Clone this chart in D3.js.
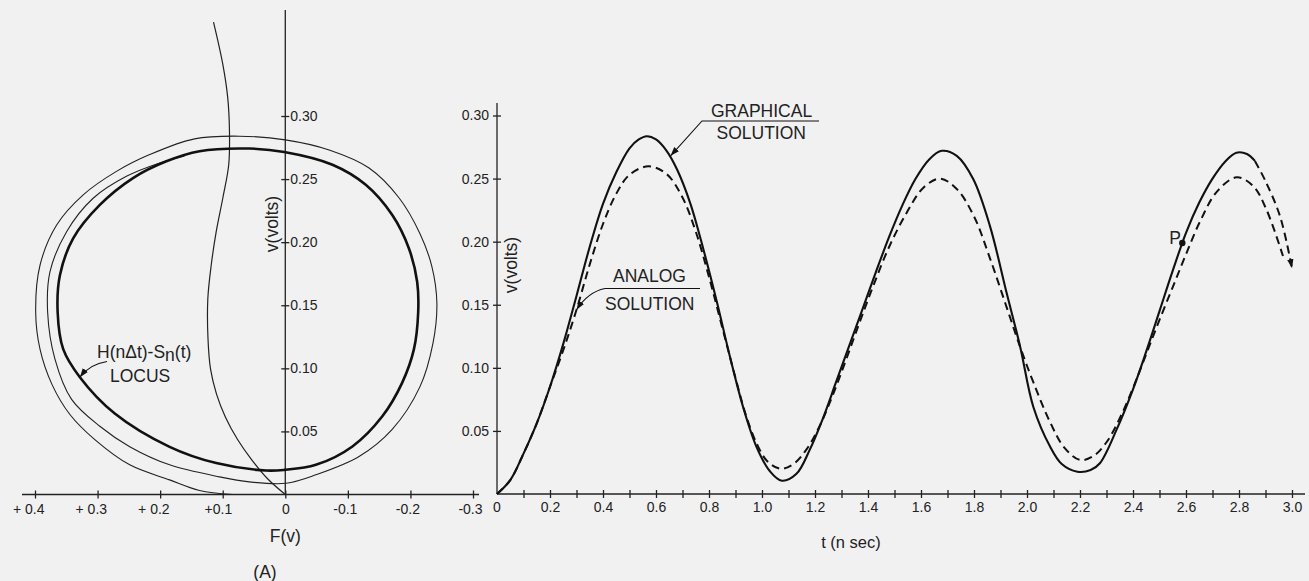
<!DOCTYPE html>
<html>
<head>
<meta charset="utf-8">
<title>Graphical and analog solution</title>
<script src="https://d3js.org/d3.v7.min.js"></script>
<style>
  body { margin: 0; background: #f1f1f1; }
  svg { display: block; }
  text { font-family: "Liberation Sans", Arial, sans-serif; fill: #222; }
  .axis line, .axisline { stroke: #222; stroke-width: 1.3; }
  .tick text { font-size: 14px; }
  .lbl { font-size: 17.5px; }
</style>
</head>
<body>
<svg id="chart" width="1309" height="581"></svg>
<script>
// ---- data (A): F(v) plane ----
var fTickVals   = [0.4, 0.3, 0.2, 0.1, 0, -0.1, -0.2, -0.3];
var fTickLabels = ["+ 0.4", "+ 0.3", "+ 0.2", "+0.1", "0", "-0.1", "-0.2", "-0.3"];
var vTickVals   = [0.05, 0.10, 0.15, 0.20, 0.25, 0.30];
var vTickLabels = ["0.05", "0.10", "0.15", "0.20", "0.25", "0.30"];

// F(v) characteristic (thin curve through origin)
var charF = [0.1147, 0.0999, 0.092, 0.0892, 0.0904, 0.0999, 0.1104, 0.1184, 0.1238, 0.1235, 0.1195, 0.1099, 0.0956, 0.0765, 0.0542, 0.0287, 0];
var charV = [0.3744, 0.3411, 0.3146, 0.288, 0.2614, 0.2348, 0.2083, 0.1817, 0.1551, 0.1232, 0.0995, 0.0796, 0.0613, 0.0438, 0.0279, 0.0127, 0];

// H(n dt) - Sn(t) locus (closed, heavy)
var locusF = [0.0574, 0.0016, -0.0754, -0.1286, -0.171, -0.1976, -0.2108, -0.2124, -0.2056, -0.1869, -0.1551, -0.1073, -0.0489, 0.0016, 0.0308, 0.1104, 0.1849, 0.2725, 0.3283, 0.3549, 0.3638, 0.3602, 0.339, 0.2964, 0.2434, 0.1901, 0.1371];
var locusV = [0.2742, 0.2715, 0.2614, 0.2455, 0.2215, 0.195, 0.1684, 0.1445, 0.1152, 0.0887, 0.062, 0.0381, 0.0235, 0.0195, 0.019, 0.0249, 0.0378, 0.0642, 0.0930, 0.1152, 0.1445, 0.1737, 0.203, 0.2295, 0.2508, 0.2641, 0.2721];

// spiral trajectory converging on the locus (thin)
var spiralF = [0.0845, 0.1371, 0.1849, 0.2486, 0.3044, 0.3442, 0.3729, 0.392, 0.3989, 0.392, 0.3654, 0.323, 0.2698, 0.2167, 0.145, 0.0733, 0, -0.0701, -0.1339, -0.1817, -0.2151, -0.2343, -0.2423, -0.2359, -0.2151, -0.1705, -0.1179, -0.0489, -0.0011, 0.0574, 0.1052, 0.1849, 0.2486, 0.2964, 0.3415, 0.3681, 0.3798, 0.3761, 0.3495, 0.3071, 0.2539, 0.2008, 0.161];
var spiralV = [0, 0.0032, 0.0116, 0.0235, 0.0435, 0.0634, 0.0873, 0.1152, 0.1445, 0.1817, 0.2136, 0.2375, 0.2561, 0.2694, 0.2819, 0.284, 0.2811, 0.2731, 0.2588, 0.2352, 0.2069, 0.1807, 0.1515, 0.1196, 0.0853, 0.0514, 0.0301, 0.0156, 0.0089, 0.01, 0.014, 0.0235, 0.0379, 0.0541, 0.0754, 0.1073, 0.1445, 0.1764, 0.2083, 0.2348, 0.2522, 0.2628, 0.2683];

// ---- data: v(t) ----
var tTickVals   = d3.range(0, 31).map(function(i){ return i / 10; });
var tTickLabels = ["0","","0.2","","0.4","","0.6","","0.8","","1.0","","1.2","","1.4","","1.6","","1.8","","2.0","","2.2","","2.4","","2.6","","2.8","","3.0"];

var tGraph = [0, 0.05, 0.1, 0.15, 0.2, 0.25, 0.3, 0.35, 0.4, 0.45, 0.5, 0.535, 0.565, 0.6, 0.64, 0.68, 0.73, 0.78, 0.83, 0.88, 0.93, 0.98, 1.03, 1.075, 1.13, 1.18, 1.23, 1.28, 1.33, 1.38, 1.43, 1.48, 1.53, 1.58, 1.63, 1.678, 1.735, 1.797, 1.86, 1.923, 1.974, 2.024, 2.087, 2.13, 2.19, 2.24, 2.275, 2.338, 2.4, 2.45, 2.5, 2.55, 2.6, 2.65, 2.7, 2.75, 2.79, 2.83, 2.86];
var vGraph = [0, 0.011, 0.032, 0.056, 0.085, 0.119, 0.157, 0.196, 0.23, 0.255, 0.274, 0.281, 0.2836, 0.281, 0.272, 0.257, 0.23, 0.193, 0.152, 0.108, 0.068, 0.037, 0.018, 0.0105, 0.016, 0.035, 0.06, 0.089, 0.118, 0.147, 0.176, 0.204, 0.229, 0.25, 0.265, 0.272, 0.268, 0.2496, 0.2125, 0.1595, 0.117, 0.069, 0.0376, 0.024, 0.0177, 0.019, 0.0244, 0.051, 0.083, 0.113, 0.145, 0.177, 0.207, 0.231, 0.25, 0.264, 0.2705, 0.2695, 0.264];
// graphical solution extrapolated (dashed, with arrow)
var tGraphExt = [2.86, 2.9, 2.955, 3.0];
var vGraphExt = [0.264, 0.248, 0.22, 0.179];

var tAnalog = [0, 0.05, 0.1, 0.15, 0.2, 0.25, 0.3, 0.35, 0.4, 0.45, 0.5, 0.571, 0.64, 0.7, 0.75, 0.8, 0.85, 0.9, 0.94, 0.98, 1.02, 1.07, 1.12, 1.17, 1.22, 1.27, 1.32, 1.37, 1.42, 1.48, 1.546, 1.61, 1.672, 1.735, 1.8, 1.86, 1.92, 1.975, 2.025, 2.087, 2.14, 2.2, 2.25, 2.3, 2.35, 2.4, 2.45, 2.5, 2.55, 2.6, 2.653, 2.716, 2.791, 2.854, 2.903, 2.966];
var vAnalog = [0, 0.011, 0.032, 0.056, 0.085, 0.114, 0.146, 0.182, 0.214, 0.238, 0.253, 0.2597, 0.2536, 0.235, 0.208, 0.172, 0.132, 0.092, 0.062, 0.04, 0.026, 0.02, 0.024, 0.036, 0.055, 0.08, 0.108, 0.137, 0.165, 0.196, 0.223, 0.243, 0.25, 0.2417, 0.22, 0.187, 0.15, 0.116, 0.088, 0.057, 0.037, 0.027, 0.03, 0.041, 0.06, 0.084, 0.111, 0.138, 0.164, 0.19, 0.216, 0.2395, 0.251, 0.244, 0.2257, 0.1886];

var pointP = {t: 2.586, v: 0.199};

// ---- setup ----
var svg = d3.select("#chart");
var defs = svg.append("defs");
defs.append("marker")
  .attr("id", "arrow")
  .attr("viewBox", "0 0 10 10")
  .attr("refX", 10).attr("refY", 5)
  .attr("markerWidth", 9).attr("markerHeight", 9)
  .attr("markerUnits", "userSpaceOnUse")
  .attr("orient", "auto")
  .append("path").attr("d", "M0,1.5 L10,5 L0,8.5 Z").attr("fill", "#111");

// scales for (A)
var xF = d3.scaleLinear().domain([0.4, -0.3]).range([35, 473]);
var yVA = d3.scaleLinear().domain([0, 0.30]).range([494.5, 116]);

// scales for v(t)
var xT = d3.scaleLinear().domain([0, 3.0]).range([497, 1292]);
var yV = d3.scaleLinear().domain([0, 0.30]).range([494, 115.5]);

function crossTicks(g, horiz) {
  g.select(".domain").remove();
  g.selectAll(".tick line")
    .attr(horiz ? "y1" : "x1", -4)
    .attr(horiz ? "y2" : "x2", 4);
}

// ---- panel (A) ----
var gA = svg.append("g");
gA.append("line").attr("class", "axisline")
  .attr("x1", 22).attr("x2", 479).attr("y1", yVA(0)).attr("y2", yVA(0));
gA.append("line").attr("class", "axisline")
  .attr("x1", xF(0)).attr("x2", xF(0)).attr("y1", 10).attr("y2", yVA(0));

var axFA = gA.append("g").attr("class", "axis")
  .attr("transform", "translate(0," + yVA(0) + ")")
  .call(d3.axisBottom(xF).tickValues(fTickVals)
    .tickFormat(function(d, i){ return fTickLabels[i]; }).tickSizeOuter(0));
crossTicks(axFA, true);
axFA.selectAll(".tick text").attr("y", 10).attr("dy", "0.71em")
  .attr("text-anchor", function(d){ return d === 0 ? "middle" : "end"; })
  .attr("x", function(d){ return d === 0 ? 0 : 9; });

var axVA = gA.append("g").attr("class", "axis")
  .attr("transform", "translate(" + xF(0) + ",0)")
  .call(d3.axisRight(yVA).tickValues(vTickVals)
    .tickFormat(function(d, i){ return vTickLabels[i]; }).tickSizeOuter(0));
crossTicks(axVA, false);
axVA.selectAll(".tick text").attr("x", 5);

var lineA = d3.line()
  .x(function(d){ return xF(d[0]); })
  .y(function(d){ return yVA(d[1]); });

gA.append("path")
  .datum(d3.zip(charF, charV))
  .attr("d", lineA.curve(d3.curveCatmullRom.alpha(0.5)))
  .attr("fill", "none").attr("stroke", "#222").attr("stroke-width", 1.2);

gA.append("path")
  .datum(d3.zip(spiralF, spiralV))
  .attr("d", lineA.curve(d3.curveCatmullRom.alpha(0.5)))
  .attr("fill", "none").attr("stroke", "#222").attr("stroke-width", 1.1);

gA.append("path")
  .datum(d3.zip(locusF, locusV))
  .attr("d", lineA.curve(d3.curveCatmullRomClosed.alpha(0.5)))
  .attr("fill", "none").attr("stroke", "#111").attr("stroke-width", 2.6);

// locus label
var locTip = [xF(0.3283), yVA(0.0930)];
var locTxt = gA.append("text").attr("class", "lbl").attr("x", 97).attr("y", 357.5);
locTxt.append("tspan").text("H(n\u0394t)-S");
locTxt.append("tspan").attr("dy", 3).text("n");
locTxt.append("tspan").attr("dy", -3).text("(t)");
gA.append("text").attr("class", "lbl").attr("x", 110).attr("y", 381.5).text("LOCUS");
gA.append("path")
  .attr("d", "M107,361.5 Q90,364 " + locTip[0] + "," + locTip[1])
  .attr("fill", "none").attr("stroke", "#111").attr("stroke-width", 1.1)
  .attr("marker-end", "url(#arrow)");

gA.append("text").attr("transform", "translate(272,224) rotate(-90)")
  .attr("class", "lbl").attr("text-anchor", "middle").attr("dy", "0.35em").text("v(volts)");
gA.append("text").attr("class", "lbl").attr("x", xF(0)).attr("y", 542)
  .attr("text-anchor", "middle").text("F(v)");
gA.append("text").attr("class", "lbl").attr("x", 265).attr("y", 578)
  .attr("text-anchor", "middle").text("(A)");

// ---- v(t) panel ----
var gB = svg.append("g");
gB.append("line").attr("class", "axisline")
  .attr("x1", xT(0)).attr("x2", 1305).attr("y1", yV(0)).attr("y2", yV(0));
gB.append("line").attr("class", "axisline")
  .attr("x1", xT(0)).attr("x2", xT(0)).attr("y1", 103).attr("y2", yV(0));

var axT = gB.append("g").attr("class", "axis")
  .attr("transform", "translate(0," + yV(0) + ")")
  .call(d3.axisBottom(xT).tickValues(tTickVals.slice(1))
    .tickFormat(function(d){ return tTickLabels[Math.round(d * 10)]; }).tickSizeOuter(0));
crossTicks(axT, true);
axT.selectAll(".tick text").attr("y", 8).attr("dy", "0.71em");
gB.append("text").attr("x", xT(0)).attr("y", yV(0) + 8).attr("dy", "0.71em")
  .attr("text-anchor", "middle").style("font-size", "14px").text(tTickLabels[0]);

var axV = gB.append("g").attr("class", "axis")
  .attr("transform", "translate(" + xT(0) + ",0)")
  .call(d3.axisLeft(yV).tickValues(vTickVals)
    .tickFormat(function(d, i){ return vTickLabels[i]; }).tickSizeOuter(0));
crossTicks(axV, false);
axV.selectAll(".tick text").attr("x", -8);

var lineB = d3.line()
  .x(function(d){ return xT(d[0]); })
  .y(function(d){ return yV(d[1]); })
  .curve(d3.curveCatmullRom.alpha(0.5));

gB.append("path")
  .datum(d3.zip(tAnalog, vAnalog))
  .attr("d", lineB)
  .attr("fill", "none").attr("stroke", "#111").attr("stroke-width", 2)
  .attr("stroke-dasharray", "8,5");

gB.append("path")
  .datum(d3.zip(tGraph, vGraph))
  .attr("d", lineB)
  .attr("fill", "none").attr("stroke", "#111").attr("stroke-width", 2.1);

gB.append("path")
  .datum(d3.zip(tGraphExt, vGraphExt))
  .attr("d", lineB)
  .attr("fill", "none").attr("stroke", "#111").attr("stroke-width", 2)
  .attr("stroke-dasharray", "8,5")
  .attr("marker-end", "url(#arrow)");

// point P
gB.append("circle").attr("cx", xT(pointP.t)).attr("cy", yV(pointP.v)).attr("r", 3.2).attr("fill", "#111");
gB.append("text").attr("class", "lbl").attr("x", xT(pointP.t) - 13).attr("y", yV(pointP.v) + 1).text("P");

// annotation: graphical
var gTip = [xT(0.655), yV(0.268)];
gB.append("text").attr("class", "lbl").attr("x", 711).attr("y", 117).text("GRAPHICAL");
gB.append("text").attr("class", "lbl").attr("x", 716.5).attr("y", 138.5).text("SOLUTION");
gB.append("path")
  .attr("d", "M819,121 L702,121 L" + gTip[0] + "," + gTip[1])
  .attr("fill", "none").attr("stroke", "#111").attr("stroke-width", 1.1)
  .attr("marker-end", "url(#arrow)");

// annotation: analog
var aTip = [xT(0.3), yV(0.146)];
gB.append("text").attr("class", "lbl").attr("x", 613).attr("y", 282).text("ANALOG");
gB.append("text").attr("class", "lbl").attr("x", 605).attr("y", 309.5).text("SOLUTION");
gB.append("path")
  .attr("d", "M700,288.5 L605,288.5 Q588,292 " + aTip[0] + "," + aTip[1])
  .attr("fill", "none").attr("stroke", "#111").attr("stroke-width", 1.1)
  .attr("marker-end", "url(#arrow)");

gB.append("text").attr("transform", "translate(511,265) rotate(-90)")
  .attr("class", "lbl").attr("text-anchor", "middle").attr("dy", "0.35em").text("v(volts)");
gB.append("text").attr("class", "lbl").attr("x", 851).attr("y", 548)
  .attr("text-anchor", "middle").style("font-size", "16.5px").text("t (n sec)");
</script>
</body>
</html>
